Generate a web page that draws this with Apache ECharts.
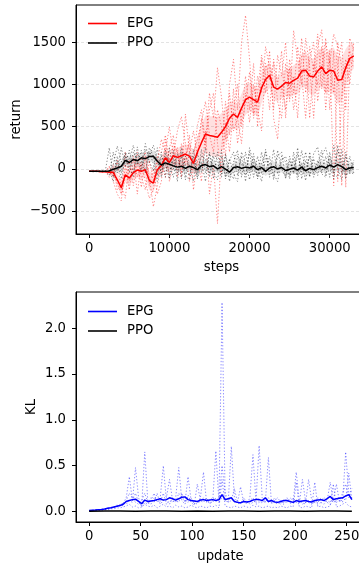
<!DOCTYPE html>
<html><head><meta charset="utf-8">
<script src="https://cdn.jsdelivr.net/npm/echarts@6/dist/echarts.min.js"></script>
<style>
html,body{margin:0;padding:0;background:#fff;}
#c1{position:absolute;left:0;top:0;width:359px;height:285px;}
#c2{position:absolute;left:0;top:285px;width:359px;height:285px;}
</style>
</head><body><div id="c1"></div><div id="c2"></div>
<script>
// ---------- top chart: return vs steps (samples every 500 steps, 0..33000) ----------
const stepSpacing = 500;
const epgMean = [-30,-30,-30,-35,-35,-40,-45,-130,-225,-70,
 -110,-45,-15,-30,-10,-140,-170,-10,40,130,
 75,155,135,155,175,150,63,200,310,413,
 395,385,375,433,500,600,650,610,720,820,
 850,820,790,960,1060,1110,970,945,980,1025,
 1015,1050,1075,1160,1170,1100,1090,1160,1210,1130,
 1170,1160,1050,1060,1200,1310,1340];
const epgBandHalf = [5,5,5,10,10,20,40,70,90,90,
 90,90,80,90,100,110,110,100,110,120,
 120,110,110,120,120,120,130,180,200,220,
 230,240,240,230,200,180,170,160,170,180,
 170,160,170,180,160,150,150,150,150,160,
 170,180,190,200,200,210,220,230,230,240,
 250,280,280,260,220,180,150];
const ppoMean = [-30,-30,-30,-30,-30,-25,-5,10,30,100,
 75,110,95,130,120,145,150,90,45,70,
 55,35,20,30,5,30,15,-10,40,50,
 25,35,0,25,-5,-40,15,25,5,20,
 10,30,-10,15,-30,10,25,0,15,-20,
 -5,10,-15,20,-25,5,-10,15,30,10,
 45,20,50,25,-10,10,15];
const ppoBandHalf = [3,3,3,3,5,15,40,55,60,65,
 65,60,65,70,60,65,70,60,65,60,
 60,55,60,65,55,60,65,60,55,60,
 65,60,55,60,65,60,55,60,65,60,
 55,60,65,60,55,60,65,60,55,60,
 65,60,55,60,65,60,55,60,65,60,
 70,65,70,65,60,60,60];
const epgRun1 = [-30,-30,-30,-35,-40,20,-150,-300,-380,50,
 -250,120,-100,60,-150,-350,-250,100,350,200,
 500,150,450,620,300,-150,100,520,700,300,
 900,600,1200,850,350,1000,1300,700,1500,1820,
 1300,650,1100,900,1450,1200,700,1350,1100,1500,
 800,1640,1300,1000,1550,1200,600,1450,1650,900,
 1400,-200,1250,1500,700,1550,1400];
const epgRun2 = [-30,-30,-25,-30,-30,-100,50,-250,-200,-350,
 100,-200,80,-220,150,-100,-450,-200,50,-100,
 250,400,-100,300,50,400,-250,100,-150,450,
 -300,50,-650,200,800,400,950,300,600,1100,
 700,1250,500,1300,900,1400,600,350,1000,700,
 1300,900,1450,1100,600,1300,1500,800,1200,1550,
 700,1400,-150,900,1300,1000,1500];
const epgRun3 = [-30,-35,-30,-40,-30,-50,-20,-150,-300,-100,
 -50,150,-300,100,200,-200,0,-300,-150,350,
 -150,50,250,-100,650,200,450,150,600,250,
 700,900,300,-50,550,200,700,1000,500,800,
 1150,600,900,1350,1100,700,1300,1000,1400,600,
 1200,700,1000,1550,900,1450,1150,1600,950,1500,
 1250,1600,1450,-200,1150,1400,1250];
const epgRun4 = [-30,-30,-30,-30,-35,30,-100,100,-250,200,
 -150,-50,200,-100,-250,100,-150,150,200,400,
 100,300,200,-50,150,300,200,350,550,800,
 400,200,700,500,150,900,450,600,300,900,
 550,1000,700,450,1250,1050,1250,800,600,1250,
 950,1100,600,1350,1400,600,1250,1000,1450,700,
 1300,900,1500,1200,-220,1300,1200];
const ppoRun1 = [-30,-35,-30,-25,-30,250,-100,150,-50,200,
 100,280,50,220,-50,250,150,-80,200,-100,
 250,0,180,-120,150,30,-150,200,-50,250,
 -100,150,-30,220,-120,100,200,-80,150,-150,
 250,50,-100,200,-50,150,-130,220,0,-100,
 150,-50,250,-120,100,-80,180,260,-50,150,
 -100,280,0,-130,200,-60,80];
const ppoRun2 = [-30,-30,-35,-30,-25,-80,200,-50,250,30,
 220,-60,260,0,300,80,-20,250,-100,180,
 -80,220,-50,150,-130,200,80,-100,230,-50,
 180,-120,200,-60,150,-150,80,220,-100,200,
 -50,180,-120,60,200,-100,230,-60,150,80,
 -120,200,-80,220,-30,150,-100,50,220,-80,
 200,-50,220,100,-120,150,-50];
const ppoRun3 = [-30,-25,-30,-35,-30,-40,50,270,80,180,
 -40,200,100,-30,230,150,280,100,-50,220,
 60,-100,150,200,-80,-130,230,-50,150,120,
 -60,200,100,-100,180,-50,-120,150,60,-80,
 200,-100,150,-60,230,-30,-80,150,200,-120,
 100,-60,180,-40,200,-100,120,-80,150,250,
 50,-120,280,-60,150,-30,100];
const ppoRun4 = [-30,-30,-30,-30,-35,-20,-150,100,-120,150,
 30,-100,180,100,-50,200,60,-150,150,50,
 -120,130,-150,250,20,-80,150,-120,80,-150,
 200,-40,-130,150,-90,120,-60,-150,200,60,
 -130,120,20,-150,120,60,-60,-150,100,150,
 -80,120,-130,60,-140,200,-50,100,-60,-100,
 150,-60,-100,230,-80,-40,-60];
const topXTicks = [0, 10000, 20000, 30000];
const topYTicks = [-500, 0, 500, 1000, 1500];

// ---------- bottom chart: KL vs update (samples every 3 updates, 0..255) ----------
const updateSpacing = 3;
const epgKlMean = [0.012,0.014,0.016,0.02,0.022,0.028,0.035,0.042,0.05,0.058,
 0.065,0.08,0.11,0.12,0.13,0.135,0.11,0.085,0.125,0.11,
 0.115,0.12,0.13,0.14,0.125,0.13,0.15,0.14,0.125,0.14,
 0.155,0.16,0.13,0.12,0.115,0.11,0.125,0.13,0.12,0.125,
 0.13,0.12,0.13,0.185,0.13,0.14,0.15,0.11,0.1,0.095,
 0.11,0.105,0.11,0.125,0.13,0.13,0.12,0.15,0.11,0.12,
 0.105,0.1,0.11,0.12,0.12,0.11,0.1,0.12,0.11,0.115,
 0.12,0.11,0.105,0.12,0.125,0.13,0.12,0.14,0.165,0.13,
 0.14,0.145,0.15,0.17,0.185,0.13];
const epgKlRun1 = [0.01,0.012,0.015,0.02,0.018,0.025,0.03,0.04,0.045,0.06,
 0.07,0.09,0.15,0.38,0.12,0.2,0.1,0.06,0.65,0.1,
 0.08,0.15,0.12,0.1,0.2,0.08,0.12,0.1,0.15,0.48,
 0.12,0.08,0.18,0.1,0.07,0.3,0.12,0.1,0.15,0.08,
 0.12,0.66,0.1,0.15,0.12,0.1,0.71,0.15,0.08,0.1,
 0.12,0.08,0.15,0.62,0.1,0.12,0.09,0.15,0.1,0.12,
 0.1,0.08,0.12,0.1,0.15,0.09,0.1,0.43,0.12,0.08,
 0.1,0.12,0.09,0.1,0.15,0.1,0.08,0.12,0.32,0.1,
 0.12,0.15,0.1,0.65,0.2,0.15];
const epgKlRun2 = [0.012,0.01,0.018,0.015,0.025,0.02,0.04,0.035,0.05,0.07,
 0.06,0.1,0.08,0.12,0.1,0.48,0.15,0.05,0.1,0.08,
 0.12,0.2,0.1,0.15,0.5,0.12,0.08,0.15,0.12,0.1,
 0.2,0.1,0.38,0.12,0.1,0.08,0.15,0.43,0.1,0.12,
 0.15,0.12,0.1,2.28,0.15,0.1,0.12,0.25,0.1,0.27,
 0.1,0.12,0.08,0.1,0.12,0.72,0.15,0.1,0.59,0.08,
 0.12,0.15,0.1,0.08,0.12,0.1,0.15,0.1,0.08,0.35,
 0.12,0.1,0.08,0.12,0.1,0.15,0.12,0.1,0.08,0.12,
 0.3,0.1,0.15,0.12,0.42,0.12];
const epgKlRun3 = [0.01,0.015,0.012,0.02,0.02,0.03,0.025,0.045,0.04,0.05,
 0.08,0.06,0.12,0.2,0.15,0.1,0.08,0.12,0.2,0.1,
 0.15,0.1,0.2,0.08,0.12,0.15,0.35,0.12,0.1,0.2,
 0.15,0.12,0.1,0.15,0.08,0.12,0.1,0.15,0.12,0.1,
 0.1,0.15,0.12,0.5,0.2,0.12,0.15,0.1,0.12,0.08,
 0.15,0.1,0.12,0.15,0.08,0.1,0.12,0.1,0.15,0.1,
 0.15,0.1,0.08,0.12,0.1,0.15,0.12,0.1,0.12,0.1,
 0.08,0.35,0.12,0.1,0.08,0.1,0.15,0.12,0.1,0.15,
 0.1,0.12,0.2,0.3,0.15,0.25];
const epgKlRun4 = [0.008,0.01,0.01,0.015,0.012,0.02,0.018,0.03,0.03,0.04,
 0.04,0.05,0.06,0.08,0.05,0.06,0.04,0.05,0.08,0.06,
 0.05,0.07,0.04,0.06,0.08,0.05,0.06,0.04,0.07,0.05,
 0.06,0.04,0.05,0.07,0.05,0.04,0.06,0.05,0.04,0.06,
 0.05,0.07,0.04,0.35,0.06,0.05,0.04,0.06,0.05,0.04,
 0.06,0.05,0.04,0.07,0.05,0.06,0.04,0.05,0.06,0.04,
 0.05,0.04,0.06,0.05,0.04,0.06,0.05,0.32,0.05,0.04,
 0.06,0.05,0.04,0.32,0.05,0.06,0.04,0.05,0.06,0.3,
 0.05,0.06,0.08,0.1,0.06,0.05];
const ppoKlSpacing = 15;
const ppoKlMean = [0.004,0.005,0.005,0.004,0.005,0.005,0.004,0.005,0.004,0.005,0.005,0.004,0.005,0.005,0.004,0.005,0.005,0.004];
const botXTicks = [0, 50, 100, 150, 200, 250];
const botYTicks = [0, 0.5, 1.0, 1.5, 2.0];

// ---------- helpers ----------
const FONT = 'DejaVu Sans';
const FS = 13.2;
const DOT = [1.3, 1.9];
function pairs(spacing, ys) { return ys.map((y, i) => [i * spacing, y]); }
function lineSeries(name, spacing, ys, color, width, type, z) {
  return { name, type: 'line', data: pairs(spacing, ys), showSymbol: false, symbol: 'none',
    lineStyle: { color, width, type: type || 'solid' }, itemStyle: { color }, z: z || 2,
    animation: false, silent: true, clip: true };
}
// shaded band (mean ± half) drawn as one polygon through the axes' own scales
function bandSeries(spacing, mean, half, color) {
  const data = mean.map((m, i) => [i * spacing, m - half[i], m + half[i]]);
  return {
    type: 'custom', data: [data[0]], z: 1, silent: true, animation: false, clip: true,
    encode: { x: 0, y: [1, 2] },
    renderItem: function (params, api) {
      const upper = data.map(d => api.coord([d[0], d[2]]));
      const lower = data.map(d => api.coord([d[0], d[1]])).reverse();
      return { type: 'polygon', shape: { points: upper.concat(lower) }, style: { fill: color },
        clipPath: { type: 'rect', shape: { x: params.coordSys.x, y: params.coordSys.y,
          width: params.coordSys.width, height: params.coordSys.height } } };
    }
  };
}
const minus = v => (v < 0 ? '\u2212' + Math.abs(v) : String(v));
function axisCommon(ticks, fmt, margin, name, gap) {
  return {
    name, nameLocation: 'middle', nameGap: gap, nameMoveOverlap: false,
    nameTextStyle: { color: '#000', fontSize: FS, fontFamily: FONT },
    axisLine: { show: true, onZero: false, lineStyle: { color: '#000', width: 1 } },
    axisTick: { show: true, inside: false, length: 4, customValues: ticks, lineStyle: { color: '#000', width: 1 } },
    axisLabel: { customValues: ticks, formatter: fmt, margin, color: '#000', fontSize: FS, fontFamily: FONT },
  };
}
function legend(top, c1, c2) {
  return { orient: 'vertical', left: 83, top, itemWidth: 29, itemHeight: 1.6, itemGap: 6.5, icon: 'rect',
    data: [{ name: 'EPG', itemStyle: { color: c1 } }, { name: 'PPO', itemStyle: { color: c2 } }],
    selectedMode: false, textStyle: { fontSize: FS, color: '#000', fontFamily: FONT, padding: [0, 0, 0, 5] } };
}

// ---------- chart 1 ----------
const c1 = echarts.init(document.getElementById('c1'), null, { renderer: 'canvas' });
c1.setOption({
  animation: false,
  backgroundColor: '#fff',
  grid: { left: 76, top: 5, width: 291, height: 229, show: true, borderColor: '#000', borderWidth: 1,
    containLabel: false, outerBoundsMode: 'none' },
  legend: legend(12, '#ff0000', '#000000'),
  xAxis: Object.assign({ type: 'value', min: -1650, max: 34650, splitLine: { show: false } },
    axisCommon(topXTicks, v => String(v), 8.5, 'steps', 27.5)),
  yAxis: Object.assign({ type: 'value', min: -773.5, max: 1943.5,
    splitLine: { show: true, lineStyle: { color: '#dcdcdc', type: [3, 2], width: 0.8 } } },
    axisCommon(topYTicks, minus, 10, 'return', 52.5)),
  series: [
    bandSeries(stepSpacing, epgMean, epgBandHalf, 'rgba(255,0,0,0.12)'),
    bandSeries(stepSpacing, ppoMean, ppoBandHalf, 'rgba(0,0,0,0.10)'),
    lineSeries('epg_r1', stepSpacing, epgRun1, 'rgba(255,0,0,0.45)', 1, DOT, 2),
    lineSeries('epg_r2', stepSpacing, epgRun2, 'rgba(255,0,0,0.45)', 1, DOT, 2),
    lineSeries('epg_r3', stepSpacing, epgRun3, 'rgba(255,0,0,0.45)', 1, DOT, 2),
    lineSeries('epg_r4', stepSpacing, epgRun4, 'rgba(255,0,0,0.45)', 1, DOT, 2),
    lineSeries('ppo_r1', stepSpacing, ppoRun1, 'rgba(0,0,0,0.45)', 1, DOT, 2),
    lineSeries('ppo_r2', stepSpacing, ppoRun2, 'rgba(0,0,0,0.45)', 1, DOT, 2),
    lineSeries('ppo_r3', stepSpacing, ppoRun3, 'rgba(0,0,0,0.45)', 1, DOT, 2),
    lineSeries('ppo_r4', stepSpacing, ppoRun4, 'rgba(0,0,0,0.45)', 1, DOT, 2),
    lineSeries('EPG', stepSpacing, epgMean, '#ff0000', 1.5, 'solid', 3),
    lineSeries('PPO', stepSpacing, ppoMean, '#000000', 1.5, 'solid', 4)
  ]
});

// ---------- chart 2 ----------
const c2 = echarts.init(document.getElementById('c2'), null, { renderer: 'canvas' });
c2.setOption({
  animation: false,
  backgroundColor: '#fff',
  grid: { left: 76, top: 7, width: 289, height: 230, show: true, borderColor: '#000', borderWidth: 1,
    containLabel: false, outerBoundsMode: 'none' },
  legend: legend(15, '#0000ff', '#000000'),
  xAxis: Object.assign({ type: 'value', min: -12.75, max: 267.75, splitLine: { show: false } },
    axisCommon(botXTicks, v => String(v), 8.5, 'update', 28)),
  yAxis: Object.assign({ type: 'value', min: -0.114, max: 2.394, splitLine: { show: false } },
    axisCommon(botYTicks, v => v.toFixed(1), 10, 'KL', 37.5)),
  series: [
    lineSeries('epg_k1', updateSpacing, epgKlRun1, 'rgba(0,0,255,0.45)', 1, DOT, 2),
    lineSeries('epg_k2', updateSpacing, epgKlRun2, 'rgba(0,0,255,0.45)', 1, DOT, 2),
    lineSeries('epg_k3', updateSpacing, epgKlRun3, 'rgba(0,0,255,0.45)', 1, DOT, 2),
    lineSeries('epg_k4', updateSpacing, epgKlRun4, 'rgba(0,0,255,0.45)', 1, DOT, 2),
    lineSeries('EPG', updateSpacing, epgKlMean, '#0000ff', 1.5, 'solid', 3),
    lineSeries('PPO', ppoKlSpacing, ppoKlMean, '#000000', 1.5, 'solid', 4)
  ]
});
</script>
</body></html>
